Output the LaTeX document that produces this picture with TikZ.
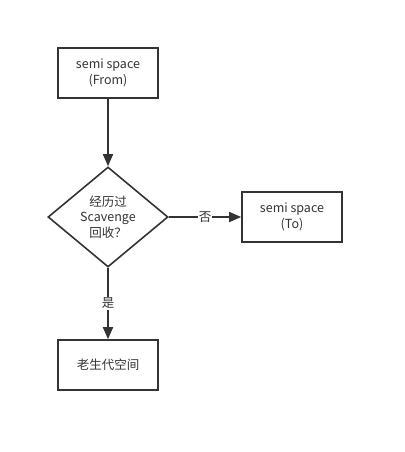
\documentclass[tikz,border=0pt]{standalone}
\usepackage{fontspec}
\setmainfont{Noto Sans CJK SC}
\usetikzlibrary{shapes.geometric,arrows.meta}
\definecolor{ink}{HTML}{333333}
\tikzset{
  box/.style={draw=ink,line width=1.6pt,minimum width=100pt,minimum height=50pt,align=center,font=\fontsize{12.5}{15.5}\selectfont,text=ink,inner sep=0pt},
  dia/.style={draw=ink,line width=1.6pt,diamond,minimum width=120pt,minimum height=100pt,align=center,font=\fontsize{12.5}{15.5}\selectfont,text=ink,inner sep=0pt},
  conn/.style={draw=ink,line width=1.6pt,-{Triangle[length=12pt,width=10pt]}},
  lbl/.style={fill=white,font=\fontsize{12.5}{14}\selectfont,text=ink,inner sep=1pt}
}
\begin{document}
\begin{tikzpicture}[x=1pt,y=-1pt]
\useasboundingbox (0,0) rectangle (404,452);
\node[box] (from) at (108,73) {semi space\\(From)};
\node[dia,shape aspect=1.2] (q) at (108,217) {经历过\\Scavenge\\回收？};
\node[box] (to) at (292,217) {semi space\\(To)};
\node[box] (old) at (108,365) {老生代空间};
\draw[conn] (from) -- (q);
\draw[conn] (q) -- node[lbl,pos=0.5] {否} (to);
\draw[conn] (q) -- node[lbl,pos=0.5] {是} (old);
\end{tikzpicture}
\end{document}
